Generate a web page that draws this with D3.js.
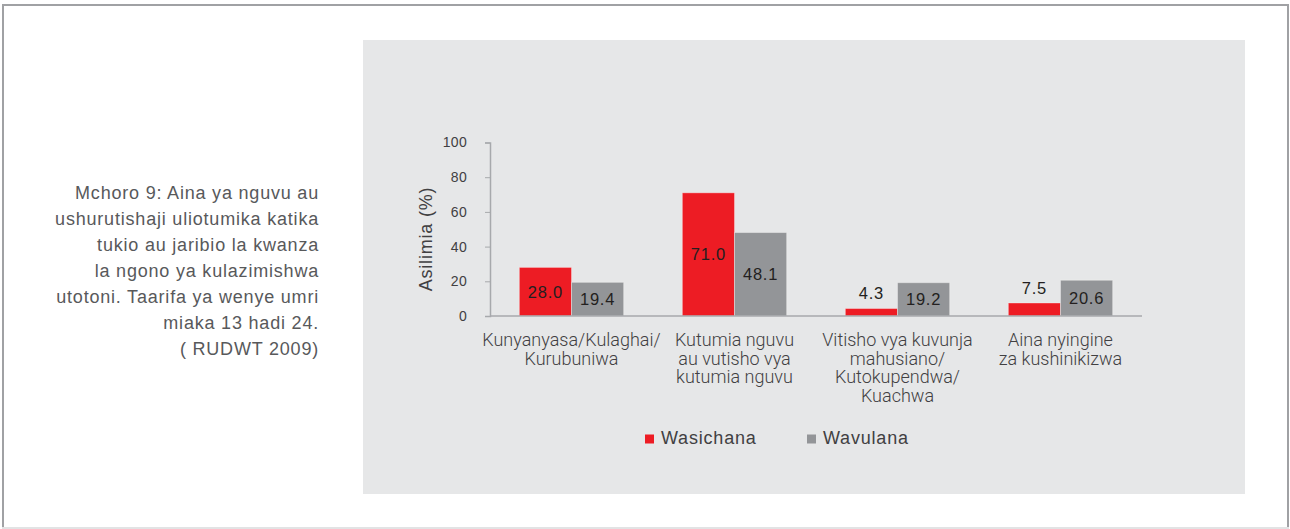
<!DOCTYPE html>
<html lang="sw">
<head>
<meta charset="utf-8">
<title>Mchoro 9</title>
<script src="https://cdn.jsdelivr.net/npm/d3@7"></script>
<style>
  html, body { margin: 0; padding: 0; background: #fff; }
  svg { display: block; font-family: "Liberation Sans", Arial, sans-serif; }
</style>
</head>
<body>
<script>
var categories = [
  ["Kunyanyasa/Kulaghai/", "Kurubuniwa"],
  ["Kutumia nguvu", "au vutisho vya", "kutumia nguvu"],
  ["Vitisho vya kuvunja", "mahusiano/", "Kutokupendwa/", "Kuachwa"],
  ["Aina nyingine", "za kushinikizwa"]
];
var seriesNames = ["Wasichana", "Wavulana"];
var wasichana = [28.0, 71.0, 4.3, 7.5];
var wavulana = [19.4, 48.1, 19.2, 20.6];
var yTicks = [0, 20, 40, 60, 80, 100];
var caption = [
  "Mchoro 9: Aina ya nguvu au",
  "ushurutishaji uliotumika katika",
  "tukio au jaribio la kwanza",
  "la ngono ya kulazimishwa",
  "utotoni. Taarifa ya wenye umri",
  "miaka 13 hadi 24.",
  "( RUDWT 2009)"
];

var colors = ["#ed1c24", "#939598"];
var w = 1290, h = 529;

var svg = d3.select("body").append("svg")
    .attr("width", w)
    .attr("height", h);

// outer frame
svg.append("rect").attr("x", 0).attr("y", 0).attr("width", w).attr("height", h).attr("fill", "#fff");
svg.append("line").attr("x1", 2).attr("x2", 1288).attr("y1", 5).attr("y2", 5)
    .attr("stroke", "#a0a1a4").attr("stroke-width", 2);
svg.append("line").attr("x1", 3).attr("x2", 3).attr("y1", 4).attr("y2", 528)
    .attr("stroke", "#a0a1a4").attr("stroke-width", 2);
svg.append("line").attr("x1", 1288).attr("x2", 1288).attr("y1", 4).attr("y2", 528)
    .attr("stroke", "#a0a1a4").attr("stroke-width", 2);
svg.append("line").attr("x1", 2).attr("x2", 1289).attr("y1", 528).attr("y2", 528)
    .attr("stroke", "#e2e3e4").attr("stroke-width", 2);

// chart panel
svg.append("rect").attr("x", 363).attr("y", 40).attr("width", 882).attr("height", 454)
    .attr("fill", "#e6e7e8");

// caption on the left
svg.append("g").selectAll("text")
    .data(caption)
    .enter().append("text")
    .attr("x", 319)
    .attr("y", function(d, i) { return 199 + i * 26; })
    .attr("text-anchor", "end")
    .attr("font-size", 18)
    .attr("letter-spacing", 0.8)
    .attr("fill", "#58595b")
    .text(function(d) { return d; });

var xscale = d3.scaleBand()
    .domain(d3.range(categories.length))
    .range([490, 1142])
    .paddingInner(0.36)
    .paddingOuter(0.18);

var xsub = d3.scaleBand()
    .domain(seriesNames)
    .range([0, xscale.bandwidth()]);

var yscale = d3.scaleLinear()
    .domain([0, 100])
    .range([316, 142.5]);

// y axis
var yaxis = d3.axisLeft(yscale).tickValues(yTicks).tickSize(5).tickPadding(18);
var gy = svg.append("g").attr("transform", "translate(490,0)").call(yaxis);
gy.select(".domain").attr("stroke", "#a7a9ac").attr("stroke-width", 1.5);
gy.selectAll(".tick line").attr("stroke", "#a7a9ac");
gy.selectAll(".tick text").attr("font-size", 14).attr("letter-spacing", 0.3)
    .attr("fill", "#414042")
    .attr("font-family", "'Liberation Sans', Arial, sans-serif");

svg.append("text")
    .attr("transform", "translate(432,239) rotate(-90)")
    .attr("text-anchor", "middle")
    .attr("font-size", 18)
    .attr("letter-spacing", 0.8)
    .attr("fill", "#414042")
    .text("Asilimia (%)");

// bars
var rows = categories.map(function(c, i) {
  return [
    { cat: i, s: seriesNames[0], v: wasichana[i], c: colors[0] },
    { cat: i, s: seriesNames[1], v: wavulana[i], c: colors[1] }
  ];
});
var groups = svg.append("g").selectAll("g")
    .data(rows)
    .enter().append("g")
    .attr("transform", function(d, i) { return "translate(" + xscale(i) + ",0)"; });

groups.selectAll("rect")
    .data(function(d) { return d; })
    .enter().append("rect")
    .attr("x", function(d) { return xsub(d.s); })
    .attr("width", xsub.bandwidth())
    .attr("y", function(d) { return yscale(d.v); })
    .attr("height", function(d) { return yscale(0) - yscale(d.v); })
    .attr("fill", function(d) { return d.c; })
    .attr("stroke", "rgba(255,255,255,0.35)")
    .attr("stroke-width", 1);

groups.selectAll("text.val")
    .data(function(d) { return d; })
    .enter().append("text")
    .attr("class", "val")
    .attr("x", function(d) { return xsub(d.s) + xsub.bandwidth() / 2; })
    .attr("y", function(d) {
      var top = yscale(d.v), bottom = yscale(0);
      if (bottom - top < 20) return top - 15;
      return (top + bottom) / 2;
    })
    .attr("dy", "0.36em")
    .attr("text-anchor", "middle")
    .attr("font-size", 16.5)
    .attr("letter-spacing", 0.8)
    .attr("fill", "#231f20")
    .text(function(d) { return d.v.toFixed(1); });

// x axis
svg.append("line").attr("x1", 490).attr("x2", 1142)
    .attr("y1", yscale(0)).attr("y2", yscale(0))
    .attr("stroke", "#a7a9ac").attr("stroke-width", 1.5);

// category labels
var cl = svg.append("g").selectAll("text")
    .data(categories)
    .enter().append("text")
    .attr("x", function(d, i) { return xscale(i) + xscale.bandwidth() / 2; })
    .attr("y", 346)
    .attr("text-anchor", "middle")
    .attr("font-size", 18)
    .attr("font-weight", 300)
    .attr("font-family", "Roboto, sans-serif")
    .attr("fill", "#414042");
cl.selectAll("tspan")
    .data(function(d) { return d; })
    .enter().append("tspan")
    .attr("x", function() { return d3.select(this.parentNode).attr("x"); })
    .attr("dy", function(d, i) { return i === 0 ? 0 : 18.5; })
    .text(function(d) { return d; });

// legend
var legendX = [645, 807];
var lg = svg.append("g").selectAll("g")
    .data(seriesNames)
    .enter().append("g")
    .attr("transform", function(d, i) { return "translate(" + legendX[i] + ",434.5)"; });
lg.append("rect").attr("width", 9).attr("height", 9)
    .attr("fill", function(d, i) { return colors[i]; });
lg.append("text").attr("x", 16).attr("y", 9.5)
    .attr("font-size", 18)
    .attr("letter-spacing", 0.8)
    .attr("fill", "#414042")
    .text(function(d) { return d; });
</script>
</body>
</html>
